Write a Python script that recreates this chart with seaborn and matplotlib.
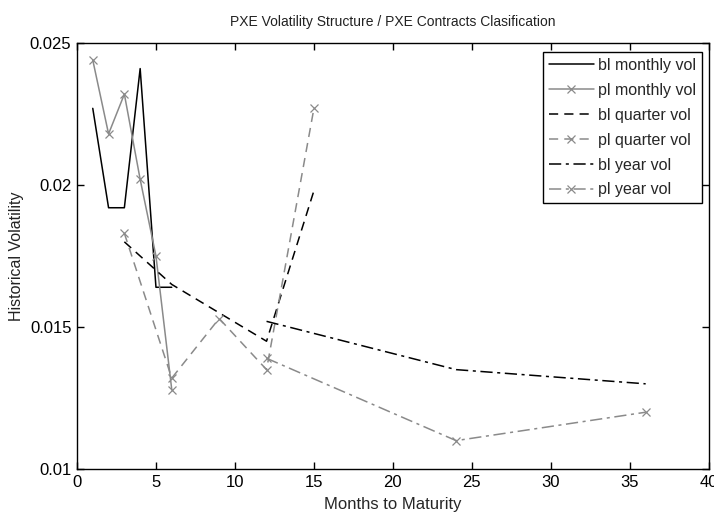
import matplotlib
matplotlib.use("Agg")
import pandas as pd
import seaborn as sns
from matplotlib import pyplot as plt
from matplotlib import ticker

# values
months_monthly = [1, 2, 3, 4, 5, 6]
bl_monthly = [0.0227, 0.0192, 0.0192, 0.0241, 0.0164, 0.0164]
pl_monthly = [0.0244, 0.0218, 0.0232, 0.0202, 0.0175, 0.0128]

months_quarter = [3, 6, 9, 12, 15]
bl_quarter = [0.0180, 0.0165, 0.0155, 0.0145, 0.0198]
pl_quarter = [0.0183, 0.0132, 0.0153, 0.0135, 0.0227]

months_year = [12, 24, 36]
bl_year = [0.0152, 0.0135, 0.0130]
pl_year = [0.0139, 0.0110, 0.0120]

x_ticks = [0, 5, 10, 15, 20, 25, 30, 35, 40]
y_ticks = [0.010, 0.015, 0.020, 0.025]

sns.set_style("ticks")
plt.rcParams['font.family'] = ['Liberation Sans Narrow', 'Liberation Sans', 'DejaVu Sans']

dash = (0, (6, 4))
dashdot = (0, (8, 3, 2, 3))
series = [
    ("bl monthly vol", months_monthly, bl_monthly, "black", "-", "None"),
    ("pl monthly vol", months_monthly, pl_monthly, "#8a8a8a", "-", "x"),
    ("bl quarter vol", months_quarter, bl_quarter, "black", dash, "None"),
    ("pl quarter vol", months_quarter, pl_quarter, "#8a8a8a", dash, "x"),
    ("bl year vol", months_year, bl_year, "black", dashdot, "None"),
    ("pl year vol", months_year, pl_year, "#8a8a8a", dashdot, "x"),
]

fig = plt.figure(figsize=(7.14, 5.14), dpi=100)
ax = fig.add_axes([0.1078, 0.0875, 0.885, 0.8288])

handles = []
for name, xs, ys, col, ls, mk in series:
    df = pd.DataFrame({"month": xs, "vol": ys})
    sns.lineplot(data=df, x="month", y="vol", ax=ax, color=col,
                 linewidth=1.1, sort=False, legend=False)
    line = ax.lines[-1]
    line.set_linestyle(ls)
    line.set_marker(mk)
    line.set_markersize(5.5)
    line.set_markeredgewidth(0.9)
    line.set_markeredgecolor(col)
    line.set_label(name)
    handles.append(line)

ax.set_xlim(0, 40)
ax.set_ylim(0.01, 0.025)
ax.set_xticks(x_ticks)
ax.set_yticks(y_ticks)
ax.yaxis.set_major_formatter(ticker.FuncFormatter(lambda v, p: "%g" % v))
ax.tick_params(direction="in", length=5, width=1, top=True, right=True,
               labelsize=12, pad=4, colors="black")
for s in ax.spines.values():
    s.set_visible(True)
    s.set_linewidth(1)
    s.set_color("black")

ax.set_xlabel("Months to Maturity", fontsize=12, labelpad=5)
ax.set_ylabel("Historical Volatility", fontsize=11.5, labelpad=4,
              family=['Liberation Sans', 'DejaVu Sans'], color="#222222")
ax.set_title("PXE Volatility Structure / PXE Contracts Clasification",
             fontsize=10, pad=12, family=['Liberation Sans', 'DejaVu Sans'],
             color="#222222")

leg = ax.legend(handles=handles, loc="upper right", bbox_to_anchor=(0.989, 0.978),
                fontsize=11.5, frameon=True, fancybox=False, edgecolor="black",
                framealpha=1, handlelength=2.8, handletextpad=0.3, borderpad=0.35,
                labelspacing=0.62, borderaxespad=0)
leg.get_frame().set_linewidth(1)

fig.savefig("out.png", dpi=100)
